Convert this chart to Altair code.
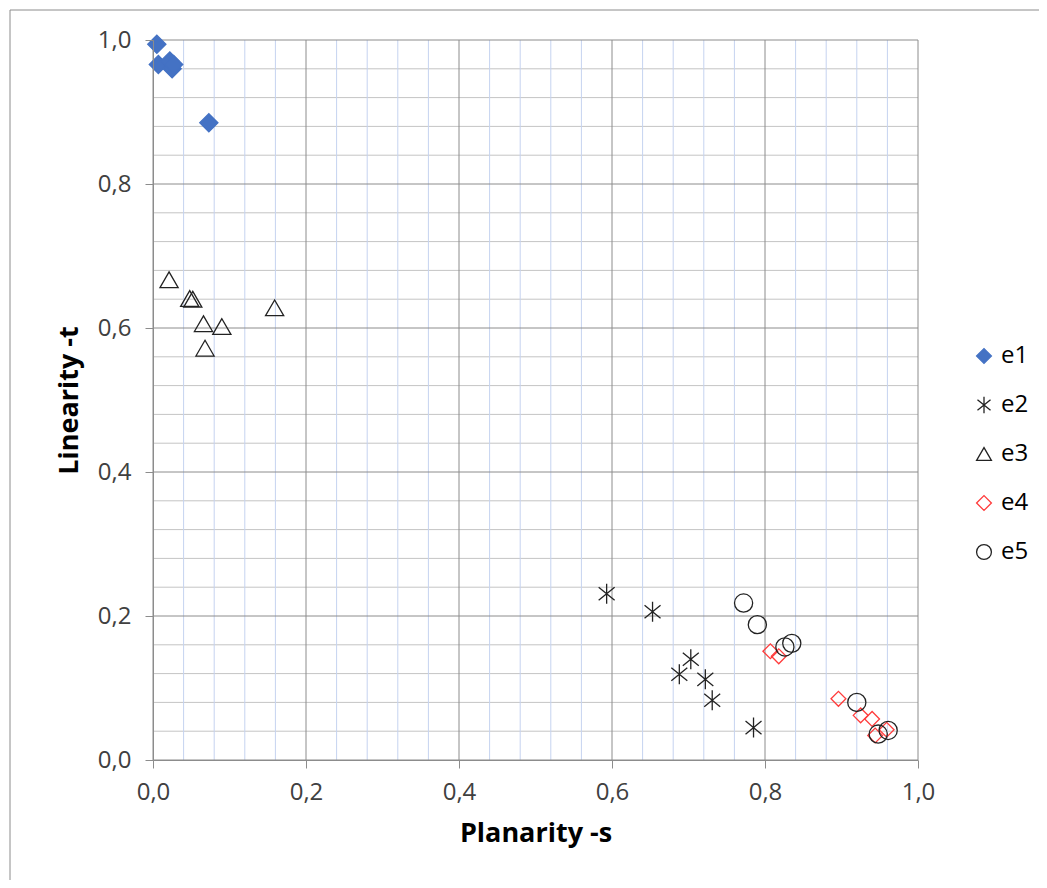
import altair as alt
import pandas as pd

# ---- data ----
series = ["e1", "e2", "e3", "e4", "e5"]

e1_x = [0.005, 0.007, 0.022, 0.025, 0.027, 0.073]
e1_y = [0.994, 0.966, 0.971, 0.960, 0.966, 0.885]

e2_x = [0.593, 0.653, 0.703, 0.688, 0.722, 0.731, 0.785]
e2_y = [0.231, 0.206, 0.140, 0.119, 0.112, 0.083, 0.045]

e3_x = [0.021, 0.048, 0.052, 0.066, 0.090, 0.068, 0.159]
e3_y = [0.667, 0.641, 0.640, 0.606, 0.602, 0.572, 0.628]

e4_x = [0.807, 0.818, 0.896, 0.925, 0.940, 0.944, 0.959]
e4_y = [0.151, 0.144, 0.085, 0.062, 0.057, 0.034, 0.042]

e5_x = [0.772, 0.790, 0.826, 0.835, 0.920, 0.948, 0.961]
e5_y = [0.218, 0.188, 0.157, 0.162, 0.080, 0.036, 0.041]

major_ticks = [0.0, 0.2, 0.4, 0.6, 0.8, 1.0]
minor_ticks = [0.04, 0.08, 0.12, 0.16, 0.24, 0.28, 0.32, 0.36, 0.44, 0.48, 0.52, 0.56,
               0.64, 0.68, 0.72, 0.76, 0.84, 0.88, 0.92, 0.96]

x_title = "Planarity -s"
y_title = "Linearity -t"

FONT = "Open Sans"

rows = []
for name, xs, ys in [("e1", e1_x, e1_y), ("e2", e2_x, e2_y), ("e3", e3_x, e3_y),
                     ("e4", e4_x, e4_y), ("e5", e5_x, e5_y)]:
    for a, b in zip(xs, ys):
        rows.append({"series": name, "s": a, "t": b})
df = pd.DataFrame(rows)

minor_df = pd.DataFrame({"s": minor_ticks, "t": minor_ticks})
major_df = pd.DataFrame({"s": major_ticks, "t": major_ticks})

xscale = alt.Scale(domain=[0, 1], nice=False, zero=False)
yscale = alt.Scale(domain=[0, 1], nice=False, zero=False)

label_expr = "replace(format(datum.value, '.1f'), '.', ',')"

x_axis = alt.Axis(title=x_title, values=major_ticks, labelExpr=label_expr, labelFlush=False,
                  grid=False, tickSize=8, labelPadding=12, titlePadding=16, zindex=1)
y_axis = alt.Axis(title=y_title, values=major_ticks, labelExpr=label_expr, labelFlush=False,
                  grid=False, tickSize=8, labelPadding=14, titlePadding=14, zindex=1)

# outer chart-area border (decoration, not data)
frame = alt.Chart(major_df.head(1)).mark_rect(
    fill="#FFFFFF00", stroke="#8C8C8C", strokeWidth=1, clip=False
).encode(x=alt.value(-143), x2=alt.value(1000), y=alt.value(-30), y2=alt.value(900))

minor_h = alt.Chart(minor_df).mark_rule(color="#C4C4C4", strokeWidth=1).encode(
    y=alt.Y("t:Q", scale=yscale, axis=y_axis)
)
minor_v = alt.Chart(minor_df).mark_rule(color="#C5D3F0", strokeWidth=1).encode(
    x=alt.X("s:Q", scale=xscale, axis=x_axis)
)
major_h = alt.Chart(major_df).mark_rule(color="#8C8C8C", strokeWidth=1).encode(
    y=alt.Y("t:Q", scale=yscale, axis=y_axis)
)
major_v = alt.Chart(major_df).mark_rule(color="#8C8C8C", strokeWidth=1).encode(
    x=alt.X("s:Q", scale=xscale, axis=x_axis)
)

asterisk = "M0,-1.1L0,1.1M-0.88,-0.72L0.88,0.72M-0.88,0.72L0.88,-0.72"

points = alt.Chart(df).mark_point(filled=False, strokeWidth=1.3, opacity=1).encode(
    x=alt.X("s:Q", scale=xscale, axis=x_axis),
    y=alt.Y("t:Q", scale=yscale, axis=y_axis),
    shape=alt.Shape("series:N", title=None,
                    scale=alt.Scale(domain=series,
                                    range=["diamond", asterisk, "triangle-up", "diamond", "circle"])),
    stroke=alt.Stroke("series:N", title=None,
                      scale=alt.Scale(domain=series,
                                      range=["#4472C4", "#222222", "#222222", "#FF3B3B", "#222222"])),
    fill=alt.Fill("series:N", title=None,
                  scale=alt.Scale(domain=series,
                                  range=["#4472C4", "#FFFFFF00", "#FFFFFF00", "#FFFFFF00", "#FFFFFF00"])),
    size=alt.condition("datum.series == 'e4'", alt.value(220), alt.value(330)),
)

chart = alt.layer(minor_h, minor_v, major_h, major_v, points, frame).properties(
    width=765, height=720,
    autosize=alt.AutoSizeParams(type="none"),
    padding={"left": 145, "top": 32, "right": 121, "bottom": 120},
).configure_view(stroke=None).configure_axis(
    labelFont=FONT, labelFontSize=24, labelColor="#404040",
    titleFont=FONT, titleFontSize=27, titleFontWeight="bold", titleColor="#000000",
    domainColor="#8C8C8C", tickColor="#8C8C8C", domainWidth=1, tickWidth=1,
).configure_legend(
    orient="none", legendX=819, legendY=304, padding=0,
    labelFont=FONT, labelFontSize=24, labelColor="#000000",
    symbolSize=220, symbolStrokeWidth=1.3, rowPadding=25, labelOffset=5,
)

chart.save("out.html", embed_options={"renderer": "svg", "actions": False})
